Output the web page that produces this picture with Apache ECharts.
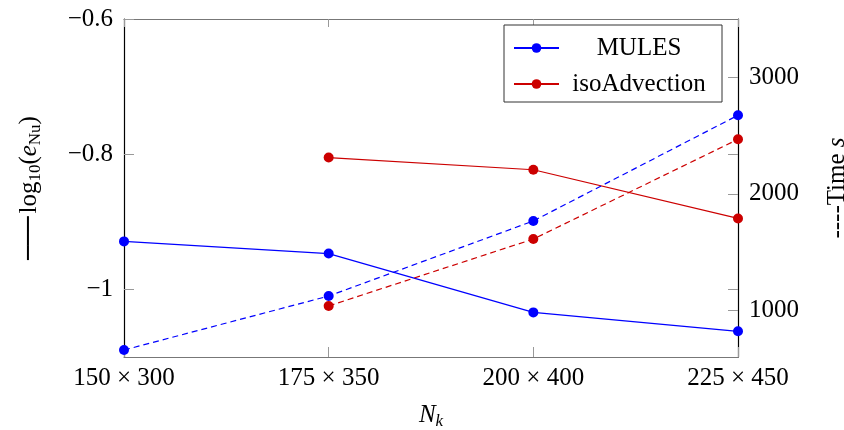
<!DOCTYPE html>
<html>
<head>
<meta charset="utf-8">
<script src="https://cdn.jsdelivr.net/npm/echarts@6/dist/echarts.min.js"></script>
<style>
html,body{margin:0;padding:0;background:#fff;}
#chart{width:844px;height:430px;}
</style>
</head>
<body>
<div id="chart"></div>
<script>
const categories = ['150 × 300', '175 × 350', '200 × 400', '225 × 450'];
const mulesError = [-0.929, -0.947, -1.034, -1.062];
const isoError = [null, -0.805, -0.823, -0.895];
const mulesTime = [660, 1123, 1767, 2674];
const isoTime = [null, 1038, 1612, 2468];
const leftTicks = [-1, -0.8, -0.6];
const rightTicks = [1000, 2000, 3000];
const rightMirrorTicks = [1000, 1180, 2000, 2340, 3000];

const FONT = '"Liberation Serif", "DejaVu Serif", serif';
const BLUE = '#0000ff';
const RED = '#cc0000';

const chart = echarts.init(document.getElementById('chart'));

function fmtNum(v) {
  const s = String(Math.round(v * 10) / 10);
  return s.replace('-', '\u2212');
}

const option = {
  animation: false,
  backgroundColor: '#fff',
  textStyle: { fontFamily: FONT },
  grid: { left: 124, right: 106, top: 19, bottom: 73, containLabel: false, outerBoundsMode: 'none' },
  legend: {
    orient: 'vertical',
    left: 504,
    top: 25,
    data: ['MULES', 'isoAdvection'],
    backgroundColor: '#fff',
    borderColor: '#333',
    borderWidth: 1,
    borderRadius: 0,
    padding: [8, 8, 3, 9],
    itemGap: 6,
    itemWidth: 45,
    itemHeight: 12,
    formatter: function (n) { return '{c|' + n + '}'; },
    textStyle: {
      fontFamily: FONT, fontSize: 25, color: '#000', lineHeight: 30,
      rich: { c: { fontFamily: FONT, fontSize: 25, color: '#000', lineHeight: 30, width: 150, align: 'center' } }
    }
  },
  xAxis: [{
    type: 'category',
    data: categories,
    boundaryGap: false,
    position: 'bottom',
    axisLine: { lineStyle: { color: '#777', width: 1.2 } },
    axisTick: { inside: true, length: 10, lineStyle: { color: '#999' } },
    axisLabel: { fontFamily: FONT, fontSize: 25, color: '#000', margin: 9 },
    name: '{it|N}{sub|k}',
    nameLocation: 'middle',
    nameGap: 44,
    nameTextStyle: {
      rich: {
        it: { fontFamily: FONT, fontStyle: 'italic', fontSize: 25, color: '#000' },
        sub: { fontFamily: FONT, fontStyle: 'italic', fontSize: 17, color: '#000', verticalAlign: 'bottom', padding: [12, 0, 0, 0] }
      }
    },
    splitLine: { show: false }
  }, {
    type: 'category',
    data: categories,
    boundaryGap: false,
    position: 'top',
    axisLine: { lineStyle: { color: '#777', width: 1.2 } },
    axisTick: { inside: true, length: 8, lineStyle: { color: '#999' } },
    axisLabel: { show: false },
    splitLine: { show: false }
  }],
  yAxis: [{
    type: 'value',
    position: 'left',
    min: -1.1,
    max: -0.6,
    axisLine: { show: true, lineStyle: { color: '#000', width: 1.2 } },
    axisTick: { show: true, inside: true, length: 10, customValues: leftTicks, lineStyle: { color: '#999' } },
    axisLabel: { fontFamily: FONT, fontSize: 25, color: '#000', margin: 11, customValues: leftTicks, formatter: fmtNum },
    splitLine: { show: false },
    name: '{ln|\u2500\u2500\u2500} {rm|log}{sub|10}{rm|(}{it|e}{sub|Nu}{rm|)}',
    nameLocation: 'middle',
    nameRotate: 90,
    nameGap: 80,
    nameTextStyle: {
      rich: {
        ln: { fontFamily: '"DejaVu Sans"', fontSize: 24, color: '#000' },
        rm: { fontFamily: FONT, fontSize: 25, color: '#000' },
        it: { fontFamily: FONT, fontStyle: 'italic', fontSize: 25, color: '#000' },
        sub: { fontFamily: FONT, fontSize: 17, color: '#000', verticalAlign: 'bottom', padding: [12, 0, 0, 0] }
      }
    }
  }, {
    type: 'value',
    position: 'right',
    min: 600,
    max: 3500,
    axisLine: { show: true, lineStyle: { color: '#000', width: 1.2 } },
    axisTick: { show: true, inside: true, length: 10, customValues: rightMirrorTicks, lineStyle: { color: '#999' } },
    axisLabel: { fontFamily: FONT, fontSize: 25, color: '#000', margin: 11, customValues: rightTicks, formatter: function (v) { return String(v); } },
    splitLine: { show: false },
    name: '{rm|----Time }{it|s}',
    nameLocation: 'middle',
    nameRotate: 90,
    nameGap: 87,
    nameTextStyle: {
      rich: {
        rm: { fontFamily: FONT, fontSize: 25, color: '#000' },
        it: { fontFamily: FONT, fontStyle: 'italic', fontSize: 25, color: '#000' }
      }
    }
  }],
  series: [{
    name: 'MULES',
    type: 'line',
    xAxisIndex: 0, yAxisIndex: 0,
    data: mulesError,
    symbol: 'circle', symbolSize: 10,
    clip: false,
    itemStyle: { color: BLUE },
    lineStyle: { color: BLUE, width: 1.2 }
  }, {
    name: 'isoAdvection',
    type: 'line',
    xAxisIndex: 0, yAxisIndex: 0,
    data: isoError,
    symbol: 'circle', symbolSize: 10,
    clip: false,
    itemStyle: { color: RED },
    lineStyle: { color: RED, width: 1.2 }
  }, {
    name: 'MULES time',
    type: 'line',
    xAxisIndex: 0, yAxisIndex: 1,
    data: mulesTime,
    symbol: 'circle', symbolSize: 10,
    clip: false,
    itemStyle: { color: BLUE },
    lineStyle: { color: BLUE, width: 1.2, type: [6, 4] }
  }, {
    name: 'isoAdvection time',
    type: 'line',
    xAxisIndex: 0, yAxisIndex: 1,
    data: isoTime,
    symbol: 'circle', symbolSize: 10,
    clip: false,
    itemStyle: { color: RED },
    lineStyle: { color: RED, width: 1.2, type: [6, 4] }
  }]
};
chart.setOption(option);
</script>
</body>
</html>
